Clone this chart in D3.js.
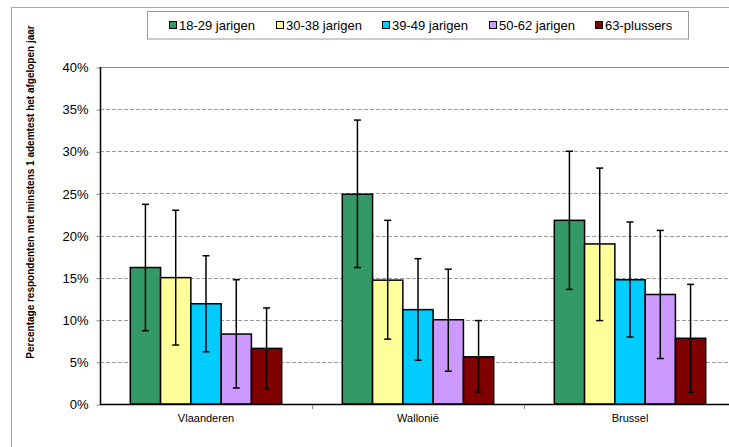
<!DOCTYPE html>
<html>
<head>
<meta charset="utf-8">
<script src="https://cdn.jsdelivr.net/npm/d3@7"></script>
<style>
  html, body { margin: 0; padding: 0; background: #fff; }
  svg { display: block; font-family: Arial, "Liberation Sans", sans-serif; }
</style>
</head>
<body>
<svg id="chart" width="729" height="447"></svg>
<script>
// Regions on the x axis
const regions = ["Vlaanderen", "Wallonië", "Brussel"];
// Age groups (series) and their fill colours
const groups = ["18-29 jarigen", "30-38 jarigen", "39-49 jarigen", "50-62 jarigen", "63-plussers"];
const colors = ["#339966", "#FFFF99", "#00CCFF", "#CC99FF", "#800000"];
// Percentage per region, one array per age group (order of regions above)
const pct1829 = [16.2, 24.9, 21.8];
const pct3038 = [15.0, 14.7, 19.0];
const pct3949 = [11.9, 11.2, 14.75];
const pct5062 = [8.3, 10.0, 13.0];
const pct63 = [6.6, 5.6, 7.8];
// Confidence interval bounds per age group
const low1829 = [8.7, 16.2, 13.6];
const high1829 = [23.7, 33.7, 30.0];
const low3038 = [7.0, 7.7, 9.9];
const high3038 = [23.0, 21.8, 28.0];
const low3949 = [6.2, 5.2, 7.95];
const high3949 = [17.6, 17.25, 21.6];
const low5062 = [1.9, 3.9, 5.4];
const high5062 = [14.75, 16.0, 20.6];
const low63 = [1.75, 1.4, 1.4];
const high63 = [11.4, 9.9, 14.2];
// Y axis ticks
const yTicks = [0, 5, 10, 15, 20, 25, 30, 35, 40];

const values = [pct1829, pct3038, pct3949, pct5062, pct63];
const lows = [low1829, low3038, low3949, low5062, low63];
const highs = [high1829, high3038, high3949, high5062, high63];

const rows = [];
regions.forEach((r, ri) => {
  groups.forEach((g, gi) => {
    rows.push({ region: r, group: g, gi, v: values[gi][ri], lo: lows[gi][ri], hi: highs[gi][ri] });
  });
});

const svg = d3.select("#chart");
const plot = { left: 100, top: 67, right: 736, bottom: 404 };

// Outer chart frame (top and left edges)
svg.append("line").attr("x1", 11).attr("x2", 729).attr("y1", 7.5).attr("y2", 7.5)
  .attr("stroke", "#a6a6a6").attr("stroke-width", 1);
svg.append("line").attr("x1", 11.5).attr("x2", 11.5).attr("y1", 7).attr("y2", 447)
  .attr("stroke", "#a6a6a6").attr("stroke-width", 1);

const x = d3.scaleBand().domain(regions).range([plot.left, plot.right]).paddingInner(0).paddingOuter(0);
const inner = d3.scaleBand().domain(groups).range([0, x.bandwidth()]).paddingInner(0).paddingOuter(1);
const y = d3.scaleLinear().domain([0, 40]).range([plot.bottom, plot.top]);

const clip = svg.append("clipPath").attr("id", "plotclip")
  .append("rect").attr("x", 0).attr("y", 0).attr("width", 729).attr("height", 447);

// Gridlines
svg.append("g")
  .selectAll("line")
  .data(yTicks.filter(t => t > 0 && t < 40))
  .join("line")
  .attr("x1", plot.left).attr("x2", 729)
  .attr("y1", d => Math.round(y(d)) + 0.5).attr("y2", d => Math.round(y(d)) + 0.5)
  .attr("stroke", "#9a9a9a").attr("stroke-width", 1).attr("stroke-dasharray", "4,2");

// Plot area top border
svg.append("line").attr("x1", plot.left).attr("x2", 729)
  .attr("y1", Math.round(y(40)) + 0.5).attr("y2", Math.round(y(40)) + 0.5)
  .attr("stroke", "#8c8c8c").attr("stroke-width", 1);

// Y axis
const yAxis = d3.axisLeft(y).tickValues(yTicks).tickFormat(d => d + "%").tickSize(4).tickPadding(8);
const gy = svg.append("g").attr("transform", `translate(${plot.left + 0.5},0.5)`).call(yAxis);
gy.select(".domain").remove();
gy.selectAll(".tick line").attr("stroke", "#8c8c8c");
gy.selectAll(".tick text").attr("font-size", 13).attr("fill", "#000")
  .attr("font-family", 'Arial, "Liberation Sans", sans-serif');
svg.append("line").attr("x1", plot.left + 0.5).attr("x2", plot.left + 0.5)
  .attr("y1", y(40)).attr("y2", y(0) + 0.5).attr("stroke", "#000").attr("stroke-width", 1.5);

// Bars
const barG = svg.append("g").attr("clip-path", "url(#plotclip)");
barG.selectAll("rect")
  .data(rows)
  .join("rect")
  .attr("x", d => x(d.region) + inner(d.group))
  .attr("width", inner.bandwidth())
  .attr("y", d => y(d.v))
  .attr("height", d => y(0) - y(d.v))
  .attr("fill", d => colors[d.gi])
  .attr("stroke", "#000").attr("stroke-width", 1.5);

// Error bars
const errG = svg.append("g").attr("stroke", "#000").attr("stroke-width", 1.5);
const cx = d => x(d.region) + inner(d.group) + inner.bandwidth() / 2;
errG.selectAll("line.stem").data(rows).join("line").attr("class", "stem")
  .attr("x1", cx).attr("x2", cx).attr("y1", d => y(d.hi)).attr("y2", d => y(d.lo));
errG.selectAll("line.capHi").data(rows).join("line").attr("class", "capHi")
  .attr("x1", d => cx(d) - 3.5).attr("x2", d => cx(d) + 3.5)
  .attr("y1", d => y(d.hi)).attr("y2", d => y(d.hi));
errG.selectAll("line.capLo").data(rows).join("line").attr("class", "capLo")
  .attr("x1", d => cx(d) - 3.5).attr("x2", d => cx(d) + 3.5)
  .attr("y1", d => y(d.lo)).attr("y2", d => y(d.lo));

// X axis
svg.append("line").attr("x1", plot.left).attr("x2", 729)
  .attr("y1", y(0) + 0.5).attr("y2", y(0) + 0.5).attr("stroke", "#000").attr("stroke-width", 1.5);
const boundaries = regions.slice(1).map(r => x(r));
svg.append("g").selectAll("line").data(boundaries).join("line")
  .attr("x1", d => Math.round(d) + 0.5).attr("x2", d => Math.round(d) + 0.5)
  .attr("y1", y(0) + 1).attr("y2", y(0) + 5).attr("stroke", "#8c8c8c");
svg.append("g").selectAll("text").data(regions).join("text")
  .attr("x", d => x(d) + x.bandwidth() / 2)
  .attr("y", y(0) + 18)
  .attr("text-anchor", "middle")
  .attr("font-size", 11)
  .attr("fill", "#000")
  .text(d => d);

// Y axis title
svg.append("text")
  .attr("transform", `translate(34,${192}) rotate(-90)`)
  .attr("text-anchor", "middle")
  .attr("font-size", 10)
  .attr("font-weight", "bold")
  .attr("fill", "#000")
  .text("Percentage respondenten met minstens 1 ademtest het afgelopen jaar");

// Legend
const legend = svg.append("g");
legend.append("rect").attr("x", 147.5).attr("y", 11.5).attr("width", 541).attr("height", 27.5)
  .attr("fill", "#fff").attr("stroke", "#9a9a9a").attr("stroke-width", 1);
const legendX = [169, 276, 382, 489, 595];
const items = legend.selectAll("g.item").data(groups).join("g").attr("class", "item")
  .attr("transform", (d, i) => `translate(${legendX[i]},25)`);
items.append("rect").attr("x", 0.5).attr("y", -3.5).attr("width", 7).attr("height", 7)
  .attr("fill", (d, i) => colors[i]).attr("stroke", "#000").attr("stroke-width", 1);
items.append("text").attr("x", 10).attr("y", 0).attr("dy", "0.36em")
  .attr("font-size", 13).attr("fill", "#000").text(d => d);
</script>
</body>
</html>
